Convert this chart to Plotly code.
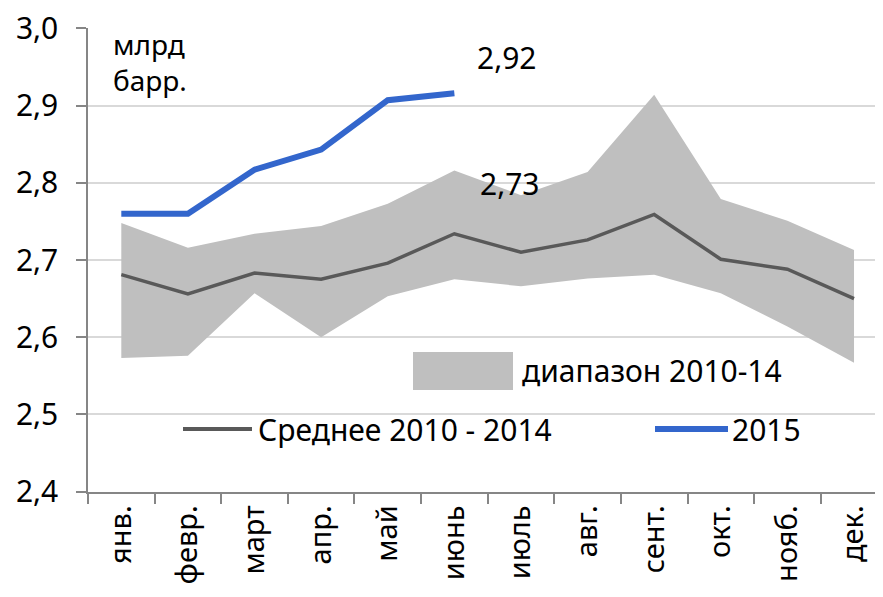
import plotly.graph_objects as go

months = ["янв.", "февр.", "март", "апр.", "май", "июнь", "июль", "авг.", "сент.", "окт.", "нояб.", "дек."]
range_low = [2.573, 2.576, 2.657, 2.600, 2.653, 2.675, 2.666, 2.676, 2.681, 2.657, 2.614, 2.567]
range_high = [2.748, 2.716, 2.734, 2.744, 2.773, 2.816, 2.784, 2.814, 2.914, 2.779, 2.751, 2.713]
mean_2010_2014 = [2.681, 2.656, 2.683, 2.675, 2.696, 2.734, 2.710, 2.726, 2.759, 2.701, 2.688, 2.650]
y2015_months = ["янв.", "февр.", "март", "апр.", "май", "июнь"]
y2015 = [2.760, 2.760, 2.817, 2.843, 2.907, 2.916]
y_ticks = [2.4, 2.5, 2.6, 2.7, 2.8, 2.9, 3.0]

FONT = "Noto Sans"
FS = 30
OFF = 8  # page body offset
W, H = 883 - OFF, 597 - OFF
# plot area in screen pixels
L, R, T, B = 88, 882, 28, 492

def px(x):
    return (x - L) / (R - L)

def py(y):
    return (B - y) / (B - T)

fig = go.Figure()
fig.add_trace(go.Scatter(x=months, y=range_low, mode="lines", line=dict(width=0, color="#bfbfbf"),
                         showlegend=False, hoverinfo="skip"))
fig.add_trace(go.Scatter(x=months, y=range_high, mode="lines", line=dict(width=0, color="#bfbfbf"),
                         fill="tonexty", fillcolor="#bfbfbf", name="диапазон 2010-14", showlegend=False))
fig.add_trace(go.Scatter(x=months, y=mean_2010_2014, mode="lines", line=dict(width=3.5, color="#595959"),
                         name="Среднее 2010 - 2014", showlegend=False))
fig.add_trace(go.Scatter(x=y2015_months, y=y2015, mode="lines", line=dict(width=6, color="#3366cc"),
                         name="2015", showlegend=False))

shapes = [
    dict(type="rect", xref="paper", yref="paper", x0=px(413), x1=px(513), y0=py(390), y1=py(352),
         fillcolor="#bfbfbf", line=dict(width=0)),
    dict(type="line", xref="paper", yref="paper", x0=px(183), x1=px(252), y0=py(429), y1=py(429),
         line=dict(color="#595959", width=4)),
    dict(type="line", xref="paper", yref="paper", x0=px(655), x1=px(728), y0=py(429), y1=py(429),
         line=dict(color="#3366cc", width=6)),
]

tf = dict(family=FONT, size=FS, color="#000000")
annotations = [
    dict(text="диапазон 2010-14", xref="paper", yref="paper", x=px(520), y=py(370), xanchor="left",
         yanchor="middle", showarrow=False, font=tf),
    dict(text="Среднее 2010 - 2014", xref="paper", yref="paper", x=px(256), y=py(429), xanchor="left",
         yanchor="middle", showarrow=False, font=tf),
    dict(text="2015", xref="paper", yref="paper", x=px(730), y=py(429), xanchor="left",
         yanchor="middle", showarrow=False, font=tf),
    dict(text="млрд<br>барр.", xref="paper", yref="paper", x=px(111), y=py(62), xanchor="left",
         yanchor="middle", align="left", showarrow=False, font=dict(family=FONT, size=28, color="#000000")),
    dict(text="2,92", xref="paper", yref="paper", x=px(507), y=py(57), xanchor="center",
         yanchor="middle", showarrow=False, font=tf),
    dict(text="2,73", xref="paper", yref="paper", x=px(510), y=py(183), xanchor="center",
         yanchor="middle", showarrow=False, font=tf),
]

fig.update_layout(
    width=W, height=H,
    margin=dict(l=L - OFF, r=W - (R - OFF), t=T - OFF, b=H - (B - OFF)),
    paper_bgcolor="white", plot_bgcolor="white",
    separators=", ",
    font=dict(family=FONT, size=FS, color="#000000"),
    shapes=shapes, annotations=annotations,
    showlegend=False,
)
fig.update_xaxes(
    type="category", categoryorder="array", categoryarray=months,
    range=[-0.5, 11.42], tickson="boundaries", ticks="outside", ticklen=10,
    tickcolor="#868686", tickwidth=1.5, showline=True, linecolor="#868686", linewidth=1.5,
    showgrid=False, tickangle=-90, tickfont=dict(family=FONT, size=FS - 1, color="#000000"),
    automargin=False, fixedrange=True,
)
fig.update_yaxes(
    range=[2.3995, 3.0005], tickvals=y_ticks, tickformat=".1f", ticks="outside", ticklen=10,
    tickcolor="#868686", tickwidth=1.5, showline=True, linecolor="#868686", linewidth=1.5,
    showgrid=True, gridcolor="#d9d9d9", gridwidth=1.5, zeroline=False,
    tickfont=dict(family=FONT, size=FS, color="#000000"), automargin=False,
    ticklabeloverflow="allow", ticklabelstandoff=12,
)

fig.write_html("out.html")
